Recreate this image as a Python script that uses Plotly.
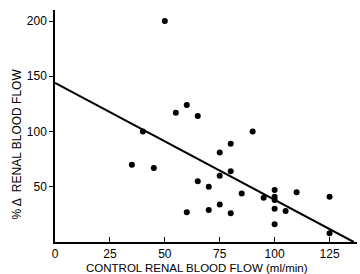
import plotly.graph_objects as go

# Control renal blood flow (ml/min)
control_flow = [50, 55, 60, 65, 40, 90, 35, 45, 80, 75, 80, 75, 65, 70, 85, 95,
                100, 100, 100, 110, 125, 60, 70, 75, 80, 100, 105, 100, 125]
# % change in renal blood flow
pct_change = [200, 117, 124, 114, 100, 100, 70, 67, 89, 81, 64, 60, 55, 50, 44, 40,
              47, 41, 38, 45, 41, 27, 29, 34, 26, 30, 28, 16, 8]

# Regression line end points
line_x = [0, 136]
line_y = [144, 0]

x_ticks = [0, 25, 50, 75, 100, 125]
y_ticks = [50, 100, 150, 200]

x_title = "CONTROL RENAL BLOOD FLOW (ml/min)"
y_title = "% Δ  RENAL BLOOD FLOW"

font = "Liberation Sans"

fig = go.Figure()
fig.add_trace(go.Scatter(x=line_x, y=line_y, mode="lines",
                         line=dict(color="black", width=2), hoverinfo="skip"))
fig.add_trace(go.Scatter(x=control_flow, y=pct_change, mode="markers",
                         marker=dict(color="black", size=6)))

fig.update_layout(
    width=360, height=274,
    margin=dict(l=55, r=3, t=10, b=32, autoexpand=False),
    paper_bgcolor="white", plot_bgcolor="white",
    showlegend=False,
    font=dict(family=font, color="black", size=12),
    xaxis=dict(range=[0, 137.5], tickvals=x_ticks, ticktext=[str(v) for v in x_ticks],
               showgrid=False, zeroline=False, showline=True, linecolor="black",
               linewidth=1.5, ticks="inside", ticklen=5, tickcolor="black",
               tickfont=dict(size=12, family=font), automargin=False),
    yaxis=dict(range=[0, 210], tickvals=y_ticks, ticktext=[str(v) for v in y_ticks],
               showgrid=False, zeroline=False, showline=True, linecolor="black",
               linewidth=1.5, ticks="outside", ticklen=4, tickcolor="black",
               tickfont=dict(size=12, family=font), automargin=False),
    annotations=[
        dict(text=x_title, xref="paper", yref="paper", x=0.47, y=0,
             xanchor="center", yanchor="middle", yshift=-26, showarrow=False,
             font=dict(size=11.5, family=font)),
        dict(text=y_title, xref="paper", yref="paper", x=0, y=0.42,
             xanchor="center", yanchor="middle", xshift=-38, textangle=-90,
             showarrow=False, font=dict(size=12, family=font)),
    ],
)

fig.write_html("out.html", config={"displayModeBar": False},
               post_script="document.body.style.margin='0';")
